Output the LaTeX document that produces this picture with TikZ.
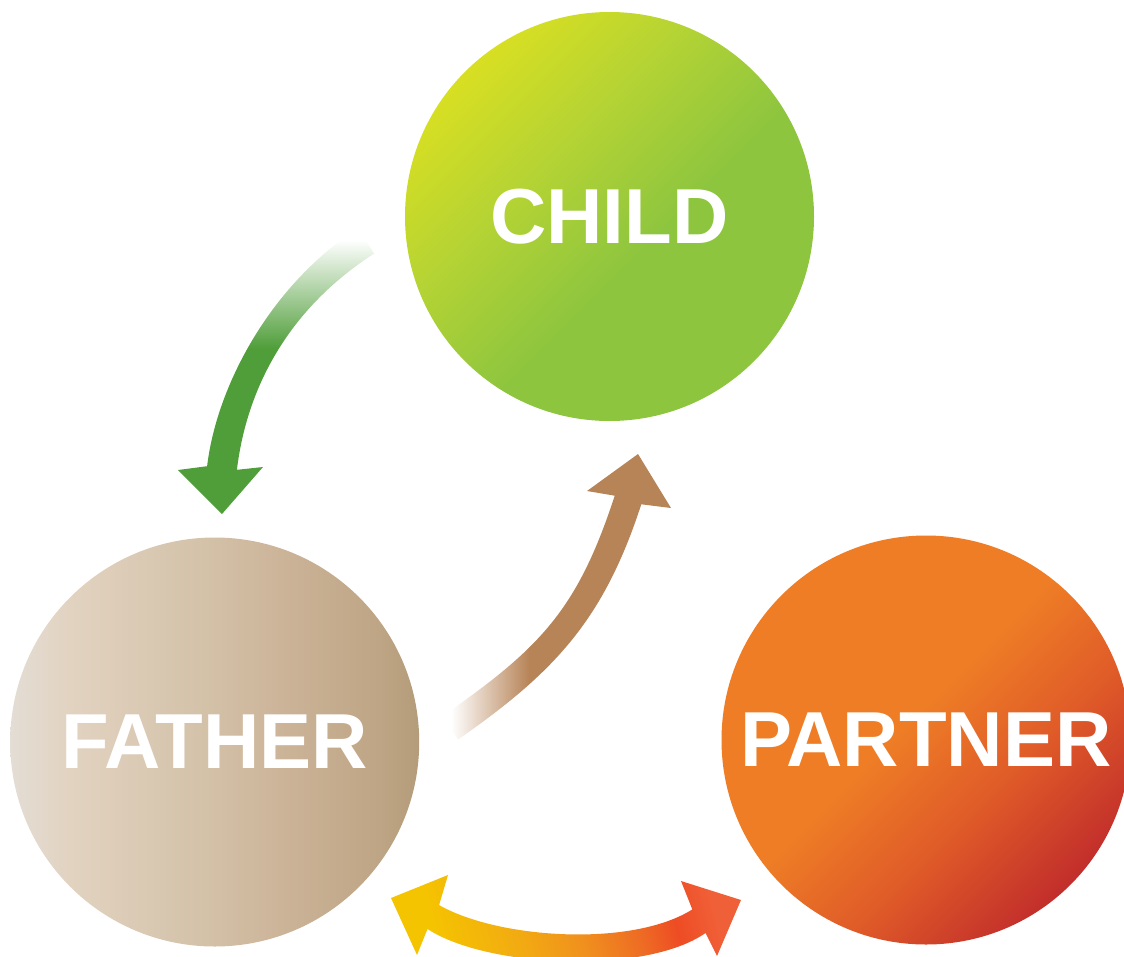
\documentclass[tikz,border=0pt]{standalone}
\usepackage{fontspec}
\setmainfont{Liberation Sans}
% circle colours
\definecolor{cyel}{RGB}{216,223,34}
\definecolor{cmid}{RGB}{180,211,52}
\definecolor{cgrn}{RGB}{141,197,63}
\definecolor{porg}{RGB}{238,125,38}
\definecolor{pmid}{RGB}{224,92,40}
\definecolor{pred}{RGB}{194,46,43}
\definecolor{fa}{RGB}{227,221,213}
\definecolor{fb}{RGB}{226,211,193}
\definecolor{fc}{RGB}{211,193,168}
\definecolor{fd}{RGB}{204,180,153}
\definecolor{fe}{RGB}{190,165,133}
\definecolor{ff}{RGB}{180,156,122}
% arrow colours
\definecolor{agrn}{RGB}{80,158,58}
\definecolor{abrn}{RGB}{183,132,88}
\definecolor{byel}{RGB}{245,196,0}
\definecolor{bamb}{RGB}{242,170,18}
\definecolor{borg}{RGB}{240,144,30}
\definecolor{borgb}{RGB}{238,106,36}
\definecolor{bred}{RGB}{238,76,36}
\definecolor{bredb}{RGB}{240,96,56}
% shadings
\pgfdeclarehorizontalshading{childsh}{100bp}{color(0bp)=(cyel); color(25bp)=(cyel); color(40bp)=(cmid); color(56bp)=(cgrn); color(100bp)=(cgrn)}
\pgfdeclarehorizontalshading{partnersh}{100bp}{color(0bp)=(porg); color(47bp)=(porg); color(60bp)=(pmid); color(75bp)=(pred); color(100bp)=(pred)}
\pgfdeclarehorizontalshading{fathersh}{100bp}{color(0bp)=(fa); color(25bp)=(fa); color(32bp)=(fb); color(49bp)=(fc); color(58bp)=(fd); color(70bp)=(fe); color(75bp)=(ff); color(100bp)=(ff)}
\pgfdeclareverticalshading{greensh}{100bp}{color(0bp)=(agrn); color(54bp)=(agrn); color(73bp)=(white); color(100bp)=(white)}
\pgfdeclarehorizontalshading{brownsh}{100bp}{color(0bp)=(white); color(27bp)=(white); color(44bp)=(abrn); color(100bp)=(abrn)}
\pgfdeclarehorizontalshading{duosh}{100bp}{color(0bp)=(byel); color(28bp)=(byel); color(42bp)=(bamb); color(52bp)=(borg); color(62bp)=(borgb); color(68bp)=(bred); color(75bp)=(bredb); color(100bp)=(bredb)}
\tikzset{
  circ/.style={circle, inner sep=0pt, minimum size=409pt, shade, text=white,
    font=\bfseries\fontsize{78}{78}\selectfont},
  arrowshape/.style={shade}
}
\begin{document}
\begin{tikzpicture}[x=1pt,y=-1pt]
\useasboundingbox (0,0) rectangle (1124,956);
% circles
\node[circ, shading=childsh, shading angle=-45] (child) at (609.5,216.5) {CHILD};
\node[circ, shading=fathersh, shading angle=0] (father) at (214.7,742) {FATHER};
\node[circ, shading=partnersh, shading angle=-45] (partner) at (926,740) {PARTNER};
% green arrow child -> father
\shade[arrowshape, shading=greensh]
  (357.9,228.4) .. controls (273.9,282.4) and (217.3,382) .. (207.1,466.2)
  -- (178,470) -- (222,514) -- (263,467) -- (236.9,469.8)
  .. controls (247.1,385.6) and (290.1,307.6) .. (374.1,253.6) -- cycle;
% brown arrow father -> child
\shade[arrowshape, shading=brownsh]
  (442,716.5) .. controls (540.4,648.1) and (577.5,609.7) .. (614.7,495.7)
  -- (587,491) -- (638,454) -- (671,508) -- (641.3,504.3)
  .. controls (604.1,618.3) and (556.4,671.1) .. (458,739.5) -- cycle;
% double arrow father <-> partner
\shade[arrowshape, shading=duosh, shading angle=15]
  (439.1,905.1) .. controls (499.1,939.1) and (632.3,947.4) .. (692.3,909.4)
  -- (681,881) -- (741,900) -- (717,956) -- (705.5,933)
  .. controls (645.5,975) and (487,968) .. (427.5,929)
  -- (417,955) -- (391,898) -- (448,875) -- cycle;
\end{tikzpicture}
\end{document}
